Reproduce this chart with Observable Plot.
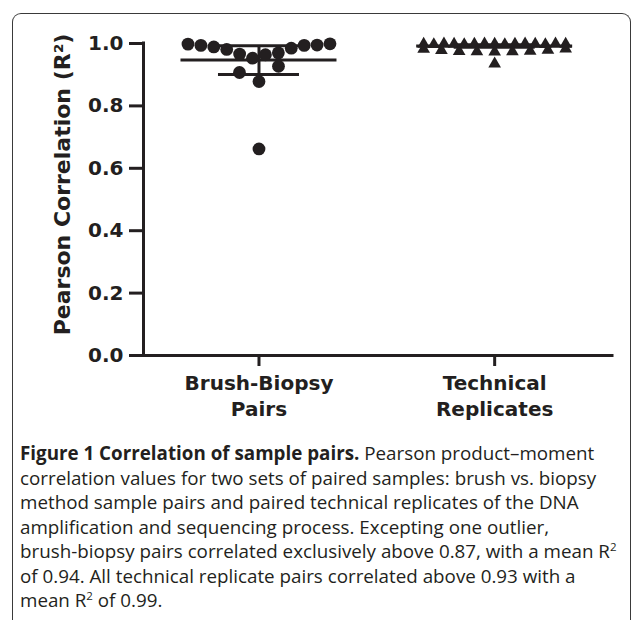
<!DOCTYPE html>
<html>
<head>
<meta charset="utf-8">
<script src="https://cdn.jsdelivr.net/npm/d3@7"></script>
<script src="https://cdn.jsdelivr.net/npm/@observablehq/plot@0.6"></script>
<style>
  html, body { margin: 0; padding: 0; background: #fff; }
  body { width: 633px; height: 620px; position: relative; overflow: hidden; }
  #frame { position: absolute; left: 12px; top: 13px; width: 617px; height: 700px;
    border: 1.6px solid #3a3a3a; border-bottom: none; border-radius: 9px 9px 0 0; }
  #chart { position: absolute; left: 0; top: 0; }
  #chart svg { background: transparent; overflow: visible; }
  #caption { position: absolute; left: 20px; top: 441px; font-family: "Open Sans", sans-serif;
    font-size: 18.8px; line-height: 24.5px; color: #231f20; white-space: nowrap; }
  #caption div { height: 24.5px; }
  #caption b { font-weight: 700; }
  #caption sup { font-size: 11.5px; line-height: 0; vertical-align: 7px; }
</style>
</head>
<body>
<div id="frame"></div>
<div id="chart"></div>
<div id="caption">
<div><b>Figure 1 Correlation of sample pairs.</b> Pearson product–moment</div>
<div>correlation values for two sets of paired samples: brush vs. biopsy</div>
<div>method sample pairs and paired technical replicates of the DNA</div>
<div>amplification and sequencing process. Excepting one outlier,</div>
<div>brush-biopsy pairs correlated exclusively above 0.87, with a mean R<sup>2</sup></div>
<div>of 0.94. All technical replicate pairs correlated above 0.93 with a</div>
<div>mean R<sup>2</sup> of 0.99.</div>
</div>
<script>
// ---- data ----
const groups = ["Brush-Biopsy\nPairs", "Technical\nReplicates"];
// brush-biopsy pair correlations, left-to-right within each swarm row
const brushBiopsy = [0.998, 0.994, 0.989, 0.981, 0.966, 0.953, 0.964, 0.970, 0.985, 0.994, 0.995, 0.999,
                     0.907, 0.927, 0.878, 0.662];
// technical replicate correlations, left-to-right within each swarm row
const technical = [0.998, 0.997, 0.999, 0.998, 0.997, 0.998, 0.999, 0.998, 0.997, 0.998, 0.999, 0.998, 0.997, 0.999, 0.998,
                   0.982, 0.978, 0.975, 0.974, 0.973, 0.974, 0.976, 0.979, 0.983,
                   0.935];
const means = [0.947, 0.992];
const sds = [0.046, 0.004];
const yTicks = [0, 0.2, 0.4, 0.6, 0.8, 1.0];
const yLabel = "Pearson Correlation (R²)";

// ---- layout ----
const W = 633, H = 430;
const mL = 143, mR = 21, mT = 43, mB = 75;
const xDomain = [-0.49, 1.5];
const pxPerUnit = (W - mL - mR) / (xDomain[1] - xDomain[0]);
const SPREAD = 142, MAX_STEP = 39;
const ink = "#231f20";

// GraphPad-like column scatter: bin values into rows, spread each row horizontally
function swarm(values, gi, rowSpan) {
  const idx = d3.range(values.length).sort((a, b) => d3.descending(values[a], values[b]) || a - b);
  const rows = [];
  for (const i of idx) {
    const row = rows[rows.length - 1];
    if (row && row.top - values[i] <= rowSpan + 1e-9) row.items.push(i);
    else rows.push({top: values[i], items: [i]});
  }
  const out = [];
  for (const row of rows) {
    const items = row.items.sort((a, b) => a - b);
    const n = items.length;
    const step = n > 1 ? Math.min(SPREAD / (n - 1), MAX_STEP) : 0;
    items.forEach((i, j) => out.push({group: gi, value: values[i], x: gi + (j - (n - 1) / 2) * step / pxPerUnit}));
  }
  return out;
}
const circles = swarm(brushBiopsy, 0, 0.047);
const triangles = swarm(technical, 1, 0.013);
const stats = means.map((m, i) => ({i, m, lo: m - sds[i], hi: m + sds[i]}));
const meanHalf = 78 / pxPerUnit, capHalf = 40.5 / pxPerUnit;

const chart = Plot.plot({
  width: W, height: H,
  marginLeft: mL, marginRight: mR, marginTop: mT, marginBottom: mB,
  style: {fontFamily: "DejaVu Sans", fontSize: "20px", fontWeight: "bold", color: ink, background: "transparent"},
  x: {domain: xDomain, axis: null},
  y: {domain: [0, 1], axis: null},
  marks: [
    // axis lines
    Plot.ruleX([xDomain[0]], {y1: 0, y2: 1, stroke: ink, strokeWidth: 3, strokeLinecap: "square"}),
    Plot.ruleY([0], {x1: xDomain[0], x2: xDomain[1], stroke: ink, strokeWidth: 3, strokeLinecap: "square"}),
    Plot.axisY({ticks: yTicks, tickFormat: d3.format(".1f"), tickSize: 14, tickPadding: 6, strokeWidth: 3, stroke: ink, fill: ink, fontSize: 20, label: null}),
    Plot.axisX({ticks: [0, 1], tickFormat: (d) => groups[d], tickSize: 11, tickPadding: 5, strokeWidth: 3, stroke: ink, fill: ink, fontSize: 20, lineHeight: 1.3, label: null}),
    Plot.text([yLabel], {frameAnchor: "left", textAnchor: "middle", dx: -81, dy: -15, rotate: -90, fontSize: 22, fill: ink}),
    // mean and SD
    Plot.ruleY(stats, {y: "m", x1: (d) => d.i - meanHalf, x2: (d) => d.i + meanHalf, stroke: ink, strokeWidth: 3}),
    Plot.ruleY(stats, {y: "hi", x1: (d) => d.i - capHalf, x2: (d) => d.i + capHalf, stroke: ink, strokeWidth: 3}),
    Plot.ruleY(stats, {y: "lo", x1: (d) => d.i - capHalf, x2: (d) => d.i + capHalf, stroke: ink, strokeWidth: 3}),
    Plot.ruleX(stats, {x: "i", y1: "lo", y2: "hi", stroke: ink, strokeWidth: 3}),
    // points
    Plot.dot(circles, {x: "x", y: "value", r: 6.4, fill: ink, symbol: "circle"}),
    Plot.dot(triangles, {x: "x", y: "value", r: 4.7, fill: ink, symbol: "triangle"})
  ]
});
document.getElementById("chart").append(chart);
</script>
</body>
</html>
